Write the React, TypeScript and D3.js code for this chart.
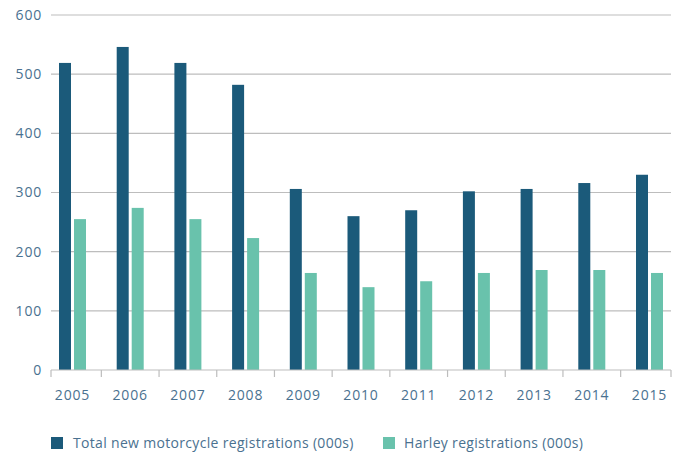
import React from "react";
import * as d3 from "d3";

const years = ["2005","2006","2007","2008","2009","2010","2011","2012","2013","2014","2015"];
const totalRegs = [519, 546, 519, 482, 306, 260, 270, 302, 306, 316, 330];
const harleyRegs = [255, 274, 255, 223, 164, 140, 150, 164, 169, 169, 164];
const seriesNames = ["Total new motorcycle registrations (000s)", "Harley registrations (000s)"];
const seriesColors = ["#1b5a7a", "#69c2ac"];
const yTicks = [0, 100, 200, 300, 400, 500, 600];

const W = 680, H = 452;
const plotLeft = 51, plotRight = 671, y0 = 370, yTop = 15;
const textColor = "#4a7190";
const font = "'Open Sans', Lato, sans-serif";

export default function App() {
  const y = d3.scaleLinear().domain([0, 600]).range([y0, yTop]);
  const x0 = d3.scaleBand<string>().domain(years).range([43.65, 678.35]).paddingInner(0).paddingOuter(0);
  const bw = x0.bandwidth();
  const x1 = d3.scaleBand<number>().domain([0, 1]).range([bw / 2 - 13.5, bw / 2 + 13.5]).paddingInner(0.2).paddingOuter(0);
  const series = [totalRegs, harleyRegs];
  const tickXs = [plotLeft, ...years.slice(1).map((yr) => x0(yr)!), plotRight];

  return (
    <svg width={W} height={H} style={{ position: "absolute", left: 0, top: 0, background: "#fff" }}>
      {yTicks.map((t) => (
        <g key={t}>
          {t !== 0 && <line x1={plotLeft} x2={plotRight} y1={y(t)} y2={y(t)} stroke="#bdbdbd" strokeWidth={1.2} />}
          <text x={42} y={y(t)} dy="0.35em" textAnchor="end" fontFamily={font} fontSize={14} letterSpacing={0.8} fill={textColor}>{t}</text>
        </g>
      ))}
      {years.map((yr, i) => (
        <g key={yr} transform={`translate(${x0(yr)},0)`}>
          {series.map((s, j) => (
            <rect key={j} x={x1(j)} y={y(s[i])} width={x1.bandwidth()} height={y(0) - y(s[i])} fill={seriesColors[j]} />
          ))}
          <text x={bw / 2} y={400} textAnchor="middle" fontFamily={font} fontSize={14} letterSpacing={0.8} fill={textColor}>{yr}</text>
        </g>
      ))}
      <line x1={plotLeft} x2={plotRight} y1={y0} y2={y0} stroke="#bdbdbd" strokeWidth={1.2} />
      {tickXs.map((tx, i) => (
        <line key={i} x1={tx} x2={tx} y1={y0} y2={y0 + 7} stroke="#bdbdbd" strokeWidth={1.2} />
      ))}
      <g>
        <rect x={51} y={437} width={12} height={12} fill={seriesColors[0]} />
        <text x={73} y={448} fontFamily={font} fontSize={14} letterSpacing={0.32} fill={textColor}>{seriesNames[0]}</text>
        <rect x={383} y={437} width={12} height={12} fill={seriesColors[1]} />
        <text x={404} y={448} fontFamily={font} fontSize={14} letterSpacing={0.32} fill={textColor}>{seriesNames[1]}</text>
      </g>
    </svg>
  );
}
